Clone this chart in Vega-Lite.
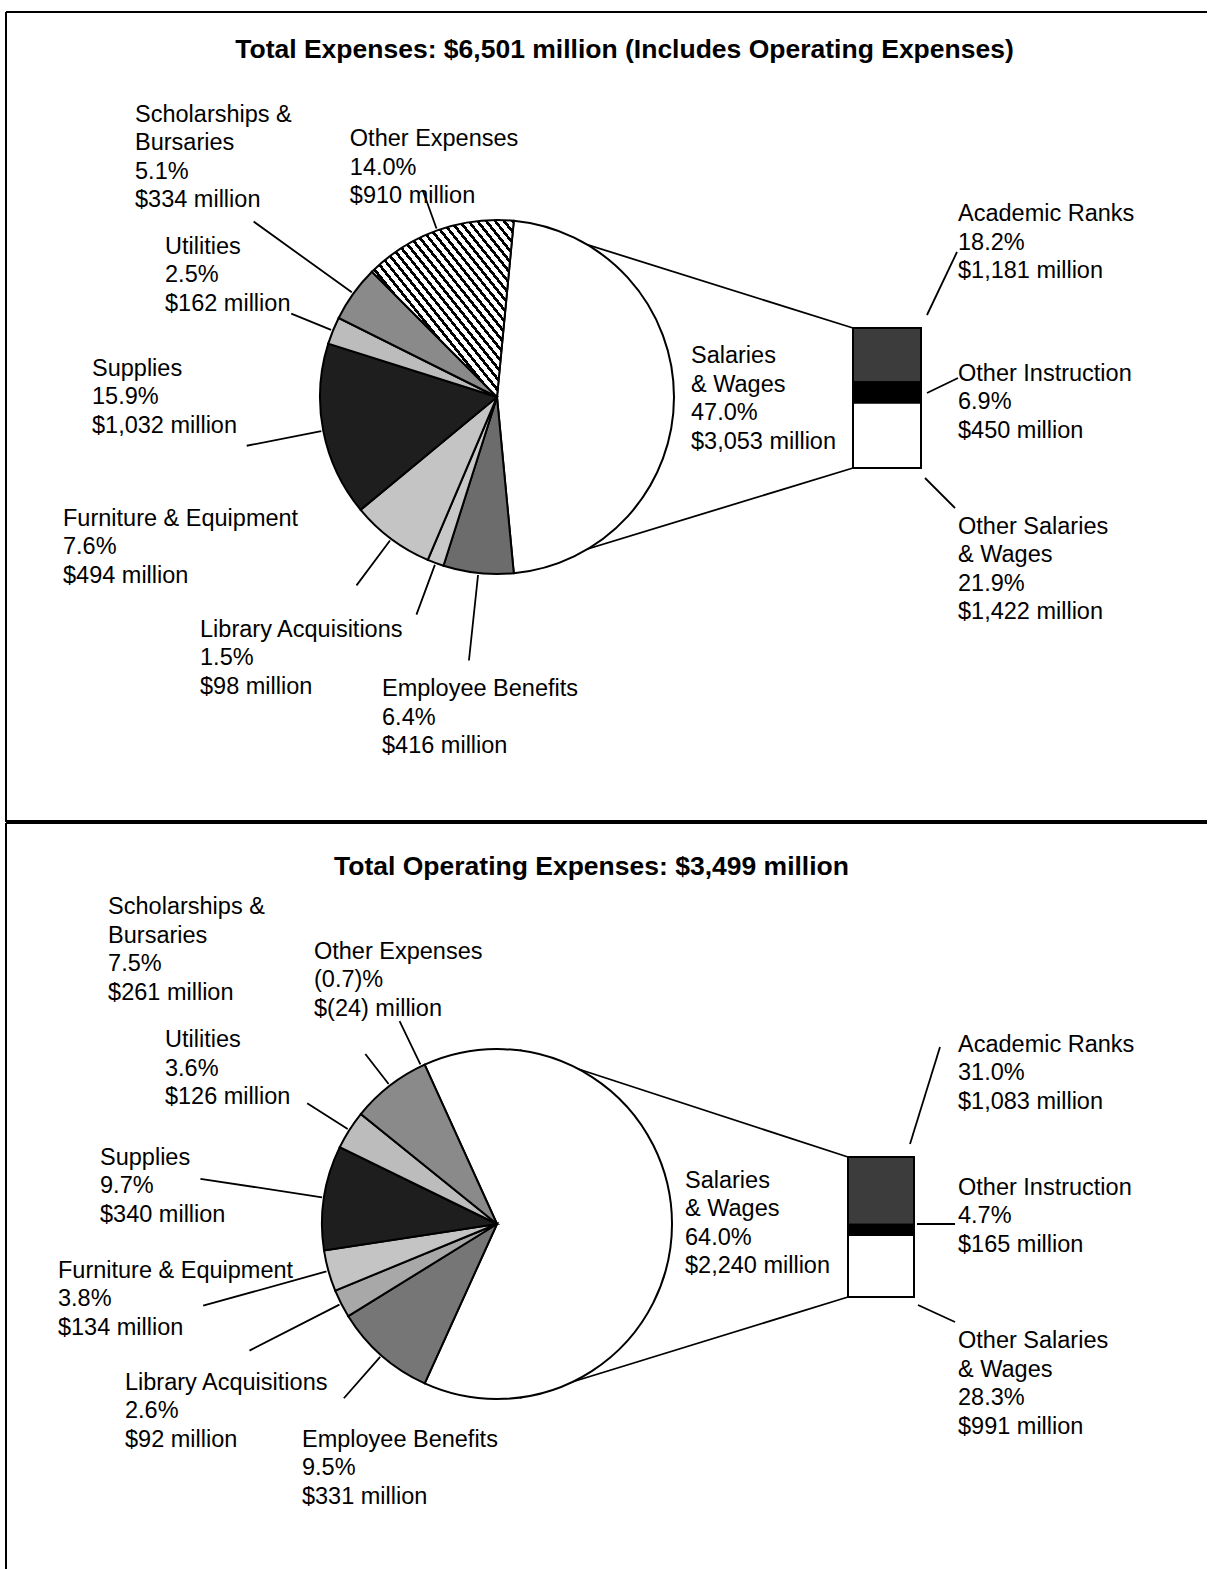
{
  "$schema": "https://vega.github.io/schema/vega-lite/v6.json",
  "background": "white",
  "padding": {"left": 5, "top": 11, "right": 0, "bottom": 0},
  "spacing": 0,
  "config": {
    "view": {"stroke": "black", "strokeWidth": 2},
    "title": {"font": "Liberation Sans", "fontSize": 26.5, "fontWeight": "bold", "color": "black", "anchor": "middle"},
    "text": {"font": "Liberation Sans", "fontSize": 23.5, "color": "black"}
  },
  "datasets": {
    "topPie": [
      {"cat": "Salaries & Wages", "amount": 3053, "ord": 1, "label": "Salaries\n& Wages\n47.0%\n$3,053 million"},
      {"cat": "Employee Benefits", "amount": 416, "ord": 2, "label": "Employee Benefits\n6.4%\n$416 million"},
      {"cat": "Library Acquisitions", "amount": 98, "ord": 3, "label": "Library Acquisitions\n1.5%\n$98 million"},
      {"cat": "Furniture & Equipment", "amount": 494, "ord": 4, "label": "Furniture & Equipment\n7.6%\n$494 million"},
      {"cat": "Supplies", "amount": 1032, "ord": 5, "label": "Supplies\n15.9%\n$1,032 million"},
      {"cat": "Utilities", "amount": 162, "ord": 6, "label": "Utilities\n2.5%\n$162 million"},
      {"cat": "Scholarships & Bursaries", "amount": 334, "ord": 7, "label": "Scholarships &\nBursaries\n5.1%\n$334 million"},
      {"cat": "Other Expenses", "amount": 910, "ord": 8, "label": "Other Expenses\n14.0%\n$910 million"}
    ],
    "topBar": [
      {"cat": "Academic Ranks", "amount": 1181, "ord": 3, "label": "Academic Ranks\n18.2%\n$1,181 million"},
      {"cat": "Other Instruction", "amount": 450, "ord": 2, "label": "Other Instruction\n6.9%\n$450 million"},
      {"cat": "Other Salaries & Wages", "amount": 1422, "ord": 1, "label": "Other Salaries\n& Wages\n21.9%\n$1,422 million"}
    ],
    "botPie": [
      {"cat": "Salaries & Wages", "amount": 2240, "ord": 1, "label": "Salaries\n& Wages\n64.0%\n$2,240 million"},
      {"cat": "Employee Benefits", "amount": 331, "ord": 2, "label": "Employee Benefits\n9.5%\n$331 million"},
      {"cat": "Library Acquisitions", "amount": 92, "ord": 3, "label": "Library Acquisitions\n2.6%\n$92 million"},
      {"cat": "Furniture & Equipment", "amount": 134, "ord": 4, "label": "Furniture & Equipment\n3.8%\n$134 million"},
      {"cat": "Supplies", "amount": 340, "ord": 5, "label": "Supplies\n9.7%\n$340 million"},
      {"cat": "Utilities", "amount": 126, "ord": 6, "label": "Utilities\n3.6%\n$126 million"},
      {"cat": "Scholarships & Bursaries", "amount": 261, "ord": 7, "label": "Scholarships &\nBursaries\n7.5%\n$261 million"},
      {"cat": "Other Expenses", "amount": -24, "ord": 8, "label": "Other Expenses\n(0.7)%\n$(24) million"}
    ],
    "botBar": [
      {"cat": "Academic Ranks", "amount": 1083, "ord": 3, "label": "Academic Ranks\n31.0%\n$1,083 million"},
      {"cat": "Other Instruction", "amount": 165, "ord": 2, "label": "Other Instruction\n4.7%\n$165 million"},
      {"cat": "Other Salaries & Wages", "amount": 991, "ord": 1, "label": "Other Salaries\n& Wages\n28.3%\n$991 million"}
    ]
  },
  "vconcat": [
    {
      "width": 1201,
      "height": 809,
      "view": {"stroke": "black", "strokeWidth": 2, "strokeDash": [1201, 809, 2010, 0]},
      "title": {"text": "Total Expenses: $6,501 million (Includes Operating Expenses)", "offset": -51, "dx": 18},
      "resolve": {"scale": {"x": "independent", "y": "independent"}},
      "layer": [
        {
          "data": {"values": [{}]},
          "layer": [
            {"mark": {"type": "rule", "strokeWidth": 1.8, "color": "black", "clip": true}, "encoding": {"x": {"datum": 515, "type": "quantitative", "scale": {"domain": [6, 1207]}, "axis": null}, "x2": {"datum": 853}, "y": {"datum": 5364.5, "type": "quantitative", "scale": {"domain": [-7698, 9944]}, "axis": null}, "y2": {"datum": 3053}}},
            {"mark": {"type": "rule", "strokeWidth": 1.8, "color": "black", "clip": true}, "encoding": {"x": {"datum": 512, "type": "quantitative", "scale": {"domain": [6, 1207]}, "axis": null}, "x2": {"datum": 853}, "y": {"datum": -2267.9, "type": "quantitative", "scale": {"domain": [-7698, 9944]}, "axis": null}, "y2": {"datum": 0}}},
            {"mark": {"type": "rule", "strokeWidth": 1.8, "color": "black", "clip": true}, "encoding": {"x": {"datum": 927, "type": "quantitative", "scale": {"domain": [6, 1207]}, "axis": null}, "x2": {"datum": 957}, "y": {"datum": 3336.5, "type": "quantitative", "scale": {"domain": [-7698, 9944]}, "axis": null}, "y2": {"datum": 4710.3}}},
            {"mark": {"type": "rule", "strokeWidth": 1.8, "color": "black", "clip": true}, "encoding": {"x": {"datum": 927, "type": "quantitative", "scale": {"domain": [6, 1207]}, "axis": null}, "x2": {"datum": 958}, "y": {"datum": 1635.5, "type": "quantitative", "scale": {"domain": [-7698, 9944]}, "axis": null}, "y2": {"datum": 1962.6}}},
            {"mark": {"type": "rule", "strokeWidth": 1.8, "color": "black", "clip": true}, "encoding": {"x": {"datum": 925, "type": "quantitative", "scale": {"domain": [6, 1207]}, "axis": null}, "x2": {"datum": 955}, "y": {"datum": -218.1, "type": "quantitative", "scale": {"domain": [-7698, 9944]}, "axis": null}, "y2": {"datum": -872.3}}}
          ]
        },
        {
          "data": {"name": "topPie"},
          "encoding": {
            "x": {"datum": "pie", "type": "nominal", "scale": {"type": "point", "align": 0.40883}, "axis": null},
            "y": {"datum": "pie", "type": "nominal", "scale": {"type": "point", "align": 0.4759}, "axis": null},
            "theta": {"field": "amount", "type": "quantitative", "stack": true, "scale": {"range": [0.095, 6.3782]}},
            "order": {"field": "ord", "type": "quantitative"}
          },
          "layer": [
            {
              "mark": {"type": "arc", "outerRadius": 177, "stroke": "black", "strokeWidth": 2, "clip": true},
              "encoding": {
                "fill": {
                  "condition": [
                    {"test": "datum.cat === 'Other Expenses'", "value": {"gradient": "linear", "x1": 0, "y1": 1, "x2": 1, "y2": 0, "stops": [
                      {"offset": 0, "color": "#fff"}, {"offset": 0.01875, "color": "#fff"}, {"offset": 0.01875, "color": "#000"}, {"offset": 0.03125, "color": "#000"},
                      {"offset": 0.03125, "color": "#fff"}, {"offset": 0.05, "color": "#fff"}, {"offset": 0.05, "color": "#000"}, {"offset": 0.0625, "color": "#000"},
                      {"offset": 0.0625, "color": "#fff"}, {"offset": 0.08125, "color": "#fff"}, {"offset": 0.08125, "color": "#000"}, {"offset": 0.09375, "color": "#000"},
                      {"offset": 0.09375, "color": "#fff"}, {"offset": 0.1125, "color": "#fff"}, {"offset": 0.1125, "color": "#000"}, {"offset": 0.125, "color": "#000"},
                      {"offset": 0.125, "color": "#fff"}, {"offset": 0.14375, "color": "#fff"}, {"offset": 0.14375, "color": "#000"}, {"offset": 0.15625, "color": "#000"},
                      {"offset": 0.15625, "color": "#fff"}, {"offset": 0.175, "color": "#fff"}, {"offset": 0.175, "color": "#000"}, {"offset": 0.1875, "color": "#000"},
                      {"offset": 0.1875, "color": "#fff"}, {"offset": 0.20625, "color": "#fff"}, {"offset": 0.20625, "color": "#000"}, {"offset": 0.21875, "color": "#000"},
                      {"offset": 0.21875, "color": "#fff"}, {"offset": 0.2375, "color": "#fff"}, {"offset": 0.2375, "color": "#000"}, {"offset": 0.25, "color": "#000"},
                      {"offset": 0.25, "color": "#fff"}, {"offset": 0.26875, "color": "#fff"}, {"offset": 0.26875, "color": "#000"}, {"offset": 0.28125, "color": "#000"},
                      {"offset": 0.28125, "color": "#fff"}, {"offset": 0.3, "color": "#fff"}, {"offset": 0.3, "color": "#000"}, {"offset": 0.3125, "color": "#000"},
                      {"offset": 0.3125, "color": "#fff"}, {"offset": 0.33125, "color": "#fff"}, {"offset": 0.33125, "color": "#000"}, {"offset": 0.34375, "color": "#000"},
                      {"offset": 0.34375, "color": "#fff"}, {"offset": 0.3625, "color": "#fff"}, {"offset": 0.3625, "color": "#000"}, {"offset": 0.375, "color": "#000"},
                      {"offset": 0.375, "color": "#fff"}, {"offset": 0.39375, "color": "#fff"}, {"offset": 0.39375, "color": "#000"}, {"offset": 0.40625, "color": "#000"},
                      {"offset": 0.40625, "color": "#fff"}, {"offset": 0.425, "color": "#fff"}, {"offset": 0.425, "color": "#000"}, {"offset": 0.4375, "color": "#000"},
                      {"offset": 0.4375, "color": "#fff"}, {"offset": 0.45625, "color": "#fff"}, {"offset": 0.45625, "color": "#000"}, {"offset": 0.46875, "color": "#000"},
                      {"offset": 0.46875, "color": "#fff"}, {"offset": 0.4875, "color": "#fff"}, {"offset": 0.4875, "color": "#000"}, {"offset": 0.5, "color": "#000"},
                      {"offset": 0.5, "color": "#fff"}, {"offset": 0.51875, "color": "#fff"}, {"offset": 0.51875, "color": "#000"}, {"offset": 0.53125, "color": "#000"},
                      {"offset": 0.53125, "color": "#fff"}, {"offset": 0.55, "color": "#fff"}, {"offset": 0.55, "color": "#000"}, {"offset": 0.5625, "color": "#000"},
                      {"offset": 0.5625, "color": "#fff"}, {"offset": 0.58125, "color": "#fff"}, {"offset": 0.58125, "color": "#000"}, {"offset": 0.59375, "color": "#000"},
                      {"offset": 0.59375, "color": "#fff"}, {"offset": 0.6125, "color": "#fff"}, {"offset": 0.6125, "color": "#000"}, {"offset": 0.625, "color": "#000"},
                      {"offset": 0.625, "color": "#fff"}, {"offset": 0.64375, "color": "#fff"}, {"offset": 0.64375, "color": "#000"}, {"offset": 0.65625, "color": "#000"},
                      {"offset": 0.65625, "color": "#fff"}, {"offset": 0.675, "color": "#fff"}, {"offset": 0.675, "color": "#000"}, {"offset": 0.6875, "color": "#000"},
                      {"offset": 0.6875, "color": "#fff"}, {"offset": 0.70625, "color": "#fff"}, {"offset": 0.70625, "color": "#000"}, {"offset": 0.71875, "color": "#000"},
                      {"offset": 0.71875, "color": "#fff"}, {"offset": 0.7375, "color": "#fff"}, {"offset": 0.7375, "color": "#000"}, {"offset": 0.75, "color": "#000"},
                      {"offset": 0.75, "color": "#fff"}, {"offset": 0.76875, "color": "#fff"}, {"offset": 0.76875, "color": "#000"}, {"offset": 0.78125, "color": "#000"},
                      {"offset": 0.78125, "color": "#fff"}, {"offset": 0.8, "color": "#fff"}, {"offset": 0.8, "color": "#000"}, {"offset": 0.8125, "color": "#000"},
                      {"offset": 0.8125, "color": "#fff"}, {"offset": 0.83125, "color": "#fff"}, {"offset": 0.83125, "color": "#000"}, {"offset": 0.84375, "color": "#000"},
                      {"offset": 0.84375, "color": "#fff"}, {"offset": 0.8625, "color": "#fff"}, {"offset": 0.8625, "color": "#000"}, {"offset": 0.875, "color": "#000"},
                      {"offset": 0.875, "color": "#fff"}, {"offset": 0.89375, "color": "#fff"}, {"offset": 0.89375, "color": "#000"}, {"offset": 0.90625, "color": "#000"},
                      {"offset": 0.90625, "color": "#fff"}, {"offset": 0.925, "color": "#fff"}, {"offset": 0.925, "color": "#000"}, {"offset": 0.9375, "color": "#000"},
                      {"offset": 0.9375, "color": "#fff"}, {"offset": 0.95625, "color": "#fff"}, {"offset": 0.95625, "color": "#000"}, {"offset": 0.96875, "color": "#000"},
                      {"offset": 0.96875, "color": "#fff"}, {"offset": 0.9875, "color": "#fff"}, {"offset": 0.9875, "color": "#000"}, {"offset": 1, "color": "#000"}
                    ]}},
                    {"test": "datum.cat === 'Employee Benefits'", "value": "#6c6c6c"},
                    {"test": "datum.cat === 'Library Acquisitions'", "value": "#c8c8c8"},
                    {"test": "datum.cat === 'Furniture & Equipment'", "value": "#c4c4c4"},
                    {"test": "datum.cat === 'Supplies'", "value": "#1e1e1e"},
                    {"test": "datum.cat === 'Utilities'", "value": "#bcbcbc"},
                    {"test": "datum.cat === 'Scholarships & Bursaries'", "value": "#8a8a8a"}
                  ],
                  "value": "white"
                }
              }
            },
            {"mark": {"type": "arc", "innerRadius": 179, "outerRadius": 220, "padAngle": 3.14, "filled": false, "stroke": "black", "strokeWidth": 1.8, "clip": true}, "encoding": {"strokeOpacity": {"condition": {"test": "datum.cat === 'Other Expenses'", "value": 1}, "value": 0}}},
            {"mark": {"type": "arc", "innerRadius": 179, "outerRadius": 300, "padAngle": 3.14, "filled": false, "stroke": "black", "strokeWidth": 1.8, "clip": true}, "encoding": {"strokeOpacity": {"condition": {"test": "datum.cat === 'Scholarships & Bursaries'", "value": 1}, "value": 0}}},
            {"mark": {"type": "arc", "innerRadius": 179, "outerRadius": 222, "padAngle": 3.14, "filled": false, "stroke": "black", "strokeWidth": 1.8, "clip": true}, "encoding": {"strokeOpacity": {"condition": {"test": "datum.cat === 'Utilities'", "value": 1}, "value": 0}}},
            {"mark": {"type": "arc", "innerRadius": 179, "outerRadius": 255, "padAngle": 3.14, "filled": false, "stroke": "black", "strokeWidth": 1.8, "clip": true}, "encoding": {"strokeOpacity": {"condition": {"test": "datum.cat === 'Supplies'", "value": 1}, "value": 0}}},
            {"mark": {"type": "arc", "innerRadius": 179, "outerRadius": 235, "padAngle": 3.14, "filled": false, "stroke": "black", "strokeWidth": 1.8, "clip": true}, "encoding": {"strokeOpacity": {"condition": {"test": "datum.cat === 'Furniture & Equipment'", "value": 1}, "value": 0}}},
            {"mark": {"type": "arc", "innerRadius": 179, "outerRadius": 232, "padAngle": 3.14, "filled": false, "stroke": "black", "strokeWidth": 1.8, "clip": true}, "encoding": {"strokeOpacity": {"condition": {"test": "datum.cat === 'Library Acquisitions'", "value": 1}, "value": 0}}},
            {"mark": {"type": "arc", "innerRadius": 179, "outerRadius": 265, "padAngle": 3.14, "filled": false, "stroke": "black", "strokeWidth": 1.8, "clip": true}, "encoding": {"strokeOpacity": {"condition": {"test": "datum.cat === 'Employee Benefits'", "value": 1}, "value": 0}}},
            {"mark": {"type": "text", "radius": 220, "dx": -72.8, "dy": -62.9, "align": "left", "baseline": "top", "lineBreak": "\n", "lineHeight": 28.5, "clip": true}, "encoding": {"text": {"condition": {"test": "datum.cat === 'Other Expenses'", "field": "label", "type": "nominal"}, "value": ""}}},
            {"mark": {"type": "text", "radius": 300, "dx": -118.6, "dy": -118.6, "align": "left", "baseline": "top", "lineBreak": "\n", "lineHeight": 28.5, "clip": true}, "encoding": {"text": {"condition": {"test": "datum.cat === 'Scholarships & Bursaries'", "field": "label", "type": "nominal"}, "value": ""}}},
            {"mark": {"type": "text", "radius": 222, "dx": -126.2, "dy": -78.7, "align": "left", "baseline": "top", "lineBreak": "\n", "lineHeight": 28.5, "clip": true}, "encoding": {"text": {"condition": {"test": "datum.cat === 'Utilities'", "field": "label", "type": "nominal"}, "value": ""}}},
            {"mark": {"type": "text", "radius": 255, "dx": -154.7, "dy": -88.8, "align": "left", "baseline": "top", "lineBreak": "\n", "lineHeight": 28.5, "clip": true}, "encoding": {"text": {"condition": {"test": "datum.cat === 'Supplies'", "field": "label", "type": "nominal"}, "value": ""}}},
            {"mark": {"type": "text", "radius": 235, "dx": -293.5, "dy": -78.4, "align": "left", "baseline": "top", "lineBreak": "\n", "lineHeight": 28.5, "clip": true}, "encoding": {"text": {"condition": {"test": "datum.cat === 'Furniture & Equipment'", "field": "label", "type": "nominal"}, "value": ""}}},
            {"mark": {"type": "text", "radius": 232, "dx": -216.4, "dy": 3.4, "align": "left", "baseline": "top", "lineBreak": "\n", "lineHeight": 28.5, "clip": true}, "encoding": {"text": {"condition": {"test": "datum.cat === 'Library Acquisitions'", "field": "label", "type": "nominal"}, "value": ""}}},
            {"mark": {"type": "text", "radius": 265, "dx": -86.9, "dy": 16.5, "align": "left", "baseline": "top", "lineBreak": "\n", "lineHeight": 28.5, "clip": true}, "encoding": {"text": {"condition": {"test": "datum.cat === 'Employee Benefits'", "field": "label", "type": "nominal"}, "value": ""}}},
            {"mark": {"type": "text", "radius": 194, "dx": 0, "dy": -53, "align": "left", "baseline": "top", "lineBreak": "\n", "lineHeight": 28.5, "clip": true}, "encoding": {"text": {"condition": {"test": "datum.cat === 'Salaries & Wages'", "field": "label", "type": "nominal"}, "value": ""}}}
          ]
        },
        {
          "data": {"name": "topBar"},
          "encoding": {
            "x": {"datum": "bar", "type": "nominal", "scale": {"type": "point", "align": 0.73356}, "axis": null},
            "y": {"field": "amount", "type": "quantitative", "stack": true, "scale": {"domain": [-7698, 9944]}, "axis": null},
            "order": {"field": "ord", "type": "quantitative"}
          },
          "layer": [
            {
              "mark": {"type": "bar", "width": 68, "stroke": "black", "strokeWidth": 2, "clip": true},
              "encoding": {
                "fill": {
                  "condition": [
                    {"test": "datum.cat === 'Academic Ranks'", "value": "#3c3c3c"},
                    {"test": "datum.cat === 'Other Instruction'", "value": "#000000"}
                  ],
                  "value": "white"
                }
              }
            },
            {"mark": {"type": "text", "dx": 71, "dy": -153, "align": "left", "baseline": "top", "lineBreak": "\n", "lineHeight": 28.5, "clip": true}, "encoding": {"y": {"field": "amount", "type": "quantitative", "stack": true, "bandPosition": 0.5, "scale": {"domain": [-7698, 9944]}, "axis": null}, "text": {"condition": {"test": "datum.cat === 'Academic Ranks'", "field": "label", "type": "nominal"}, "value": ""}}},
            {"mark": {"type": "text", "dx": 71, "dy": -30.5, "align": "left", "baseline": "top", "lineBreak": "\n", "lineHeight": 28.5, "clip": true}, "encoding": {"y": {"field": "amount", "type": "quantitative", "stack": true, "bandPosition": 0.5, "scale": {"domain": [-7698, 9944]}, "axis": null}, "text": {"condition": {"test": "datum.cat === 'Other Instruction'", "field": "label", "type": "nominal"}, "value": ""}}},
            {"mark": {"type": "text", "dx": 71, "dy": 79.6, "align": "left", "baseline": "top", "lineBreak": "\n", "lineHeight": 28.5, "clip": true}, "encoding": {"y": {"field": "amount", "type": "quantitative", "stack": true, "bandPosition": 0.5, "scale": {"domain": [-7698, 9944]}, "axis": null}, "text": {"condition": {"test": "datum.cat === 'Other Salaries & Wages'", "field": "label", "type": "nominal"}, "value": ""}}}
          ]
        }
      ]
    },
    {
      "width": 1201,
      "height": 747,
      "view": {"stroke": "black", "strokeWidth": 2, "strokeDash": [1201, 1836, 859, 0]},
      "title": {"text": "Total Operating Expenses: $3,499 million", "offset": -57, "dx": -15},
      "resolve": {"scale": {"x": "independent", "y": "independent"}},
      "layer": [
        {
          "data": {"values": [{}]},
          "layer": [
            {"mark": {"type": "rule", "strokeWidth": 1.8, "color": "black", "clip": true}, "encoding": {"x": {"datum": 520, "type": "quantitative", "scale": {"domain": [6, 1207]}, "axis": null}, "x2": {"datum": 848}, "y": {"datum": 3950.3, "type": "quantitative", "scale": {"domain": [-4366, 7581]}, "axis": null}, "y2": {"datum": 2239}}},
            {"mark": {"type": "rule", "strokeWidth": 1.8, "color": "black", "clip": true}, "encoding": {"x": {"datum": 520, "type": "quantitative", "scale": {"domain": [6, 1207]}, "axis": null}, "x2": {"datum": 848}, "y": {"datum": -1615.3, "type": "quantitative", "scale": {"domain": [-4366, 7581]}, "axis": null}, "y2": {"datum": 0}}},
            {"mark": {"type": "rule", "strokeWidth": 1.8, "color": "black", "clip": true}, "encoding": {"x": {"datum": 940, "type": "quantitative", "scale": {"domain": [6, 1207]}, "axis": null}, "x2": {"datum": 910}, "y": {"datum": 3998.3, "type": "quantitative", "scale": {"domain": [-4366, 7581]}, "axis": null}, "y2": {"datum": 2446.9}}},
            {"mark": {"type": "rule", "strokeWidth": 1.8, "color": "black", "clip": true}, "encoding": {"x": {"datum": 917, "type": "quantitative", "scale": {"domain": [6, 1207]}, "axis": null}, "x2": {"datum": 955}, "y": {"datum": 1167.5, "type": "quantitative", "scale": {"domain": [-4366, 7581]}, "axis": null}, "y2": {"datum": 1167.5}}},
            {"mark": {"type": "rule", "strokeWidth": 1.8, "color": "black", "clip": true}, "encoding": {"x": {"datum": 918, "type": "quantitative", "scale": {"domain": [6, 1207]}, "axis": null}, "x2": {"datum": 955}, "y": {"datum": -127.9, "type": "quantitative", "scale": {"domain": [-4366, 7581]}, "axis": null}, "y2": {"datum": -399.8}}}
          ]
        },
        {
          "data": {"name": "botPie"},
          "encoding": {
            "x": {"datum": "pie", "type": "nominal", "scale": {"type": "point", "align": 0.40883}, "axis": null},
            "y": {"datum": "pie", "type": "nominal", "scale": {"type": "point", "align": 0.53681}, "axis": null},
            "theta": {"field": "amount", "type": "quantitative", "stack": true, "scale": {"domain": [0, 3524], "range": [-0.4264, 5.8568]}},
            "order": {"field": "ord", "type": "quantitative"}
          },
          "layer": [
            {
              "mark": {"type": "arc", "outerRadius": 175, "stroke": "black", "strokeWidth": 2, "clip": true},
              "encoding": {
                "fill": {
                  "condition": [
                    {"test": "datum.cat === 'Employee Benefits'", "value": "#767676"},
                    {"test": "datum.cat === 'Library Acquisitions'", "value": "#a8a8a8"},
                    {"test": "datum.cat === 'Furniture & Equipment'", "value": "#c4c4c4"},
                    {"test": "datum.cat === 'Supplies'", "value": "#1e1e1e"},
                    {"test": "datum.cat === 'Utilities'", "value": "#bcbcbc"},
                    {"test": "datum.cat === 'Scholarships & Bursaries'", "value": "#8a8a8a"}
                  ],
                  "value": "white"
                },
                "fillOpacity": {"condition": {"test": "datum.amount < 0", "value": 0}, "value": 1},
                "strokeOpacity": {"condition": {"test": "datum.amount < 0", "value": 0}, "value": 1}
              }
            },
            {"mark": {"type": "arc", "innerRadius": 177, "outerRadius": 215, "padAngle": 3.14, "filled": false, "stroke": "black", "strokeWidth": 1.8, "clip": true}, "encoding": {"strokeOpacity": {"condition": {"test": "datum.cat === 'Scholarships & Bursaries'", "value": 1}, "value": 0}}},
            {"mark": {"type": "arc", "innerRadius": 177, "outerRadius": 225, "padAngle": 3.14, "filled": false, "stroke": "black", "strokeWidth": 1.8, "clip": true}, "encoding": {"strokeOpacity": {"condition": {"test": "datum.cat === 'Other Expenses'", "value": 1}, "value": 0}}},
            {"mark": {"type": "arc", "innerRadius": 177, "outerRadius": 225, "padAngle": 3.14, "filled": false, "stroke": "black", "strokeWidth": 1.8, "clip": true}, "encoding": {"strokeOpacity": {"condition": {"test": "datum.cat === 'Utilities'", "value": 1}, "value": 0}}},
            {"mark": {"type": "arc", "innerRadius": 177, "outerRadius": 300, "padAngle": 3.14, "filled": false, "stroke": "black", "strokeWidth": 1.8, "clip": true}, "encoding": {"strokeOpacity": {"condition": {"test": "datum.cat === 'Supplies'", "value": 1}, "value": 0}}},
            {"mark": {"type": "arc", "innerRadius": 177, "outerRadius": 305, "padAngle": 3.14, "filled": false, "stroke": "black", "strokeWidth": 1.8, "clip": true}, "encoding": {"strokeOpacity": {"condition": {"test": "datum.cat === 'Furniture & Equipment'", "value": 1}, "value": 0}}},
            {"mark": {"type": "arc", "innerRadius": 177, "outerRadius": 278, "padAngle": 3.14, "filled": false, "stroke": "black", "strokeWidth": 1.8, "clip": true}, "encoding": {"strokeOpacity": {"condition": {"test": "datum.cat === 'Library Acquisitions'", "value": 1}, "value": 0}}},
            {"mark": {"type": "arc", "innerRadius": 177, "outerRadius": 232, "padAngle": 3.14, "filled": false, "stroke": "black", "strokeWidth": 1.8, "clip": true}, "encoding": {"strokeOpacity": {"condition": {"test": "datum.cat === 'Employee Benefits'", "value": 1}, "value": 0}}},
            {"mark": {"type": "text", "radius": 300, "dx": -205.2, "dy": -91.8, "align": "left", "baseline": "top", "lineBreak": "\n", "lineHeight": 28.5, "clip": true}, "encoding": {"text": {"condition": {"test": "datum.cat === 'Scholarships & Bursaries'", "field": "label", "type": "nominal"}, "value": ""}}},
            {"mark": {"type": "text", "radius": 225, "dx": -85.6, "dy": -81.2, "align": "left", "baseline": "top", "lineBreak": "\n", "lineHeight": 28.5, "clip": true}, "encoding": {"text": {"condition": {"test": "datum.cat === 'Other Expenses'", "field": "label", "type": "nominal"}, "value": ""}}},
            {"mark": {"type": "text", "radius": 225, "dx": -142.2, "dy": -75.2, "align": "left", "baseline": "top", "lineBreak": "\n", "lineHeight": 28.5, "clip": true}, "encoding": {"text": {"condition": {"test": "datum.cat === 'Utilities'", "field": "label", "type": "nominal"}, "value": ""}}},
            {"mark": {"type": "text", "radius": 300, "dx": -100.4, "dy": -32.8, "align": "left", "baseline": "top", "lineBreak": "\n", "lineHeight": 28.5, "clip": true}, "encoding": {"text": {"condition": {"test": "datum.cat === 'Supplies'", "field": "label", "type": "nominal"}, "value": ""}}},
            {"mark": {"type": "text", "radius": 305, "dx": -145.2, "dy": -46.8, "align": "left", "baseline": "top", "lineBreak": "\n", "lineHeight": 28.5, "clip": true}, "encoding": {"text": {"condition": {"test": "datum.cat === 'Furniture & Equipment'", "field": "label", "type": "nominal"}, "value": ""}}},
            {"mark": {"type": "text", "radius": 278, "dx": -124.5, "dy": 20.4, "align": "left", "baseline": "top", "lineBreak": "\n", "lineHeight": 28.5, "clip": true}, "encoding": {"text": {"condition": {"test": "datum.cat === 'Library Acquisitions'", "field": "label", "type": "nominal"}, "value": ""}}},
            {"mark": {"type": "text", "radius": 232, "dx": -41.9, "dy": 29.7, "align": "left", "baseline": "top", "lineBreak": "\n", "lineHeight": 28.5, "clip": true}, "encoding": {"text": {"condition": {"test": "datum.cat === 'Employee Benefits'", "field": "label", "type": "nominal"}, "value": ""}}},
            {"mark": {"type": "text", "radius": 188, "dx": 0, "dy": -55, "align": "left", "baseline": "top", "lineBreak": "\n", "lineHeight": 28.5, "clip": true}, "encoding": {"text": {"condition": {"test": "datum.cat === 'Salaries & Wages'", "field": "label", "type": "nominal"}, "value": ""}}}
          ]
        },
        {
          "data": {"name": "botBar"},
          "encoding": {
            "x": {"datum": "bar", "type": "nominal", "scale": {"type": "point", "align": 0.72856}, "axis": null},
            "y": {"field": "amount", "type": "quantitative", "stack": true, "scale": {"domain": [-4366, 7581]}, "axis": null},
            "order": {"field": "ord", "type": "quantitative"}
          },
          "layer": [
            {
              "mark": {"type": "bar", "width": 66, "stroke": "black", "strokeWidth": 2, "clip": true},
              "encoding": {
                "fill": {
                  "condition": [
                    {"test": "datum.cat === 'Academic Ranks'", "value": "#3c3c3c"},
                    {"test": "datum.cat === 'Other Instruction'", "value": "#000000"}
                  ],
                  "value": "white"
                }
              }
            },
            {"mark": {"type": "text", "dx": 77, "dy": -157.9, "align": "left", "baseline": "top", "lineBreak": "\n", "lineHeight": 28.5, "clip": true}, "encoding": {"y": {"field": "amount", "type": "quantitative", "stack": true, "bandPosition": 0.5, "scale": {"domain": [-4366, 7581]}, "axis": null}, "text": {"condition": {"test": "datum.cat === 'Academic Ranks'", "field": "label", "type": "nominal"}, "value": ""}}},
            {"mark": {"type": "text", "dx": 77, "dy": -53.9, "align": "left", "baseline": "top", "lineBreak": "\n", "lineHeight": 28.5, "clip": true}, "encoding": {"y": {"field": "amount", "type": "quantitative", "stack": true, "bandPosition": 0.5, "scale": {"domain": [-4366, 7581]}, "axis": null}, "text": {"condition": {"test": "datum.cat === 'Other Instruction'", "field": "label", "type": "nominal"}, "value": ""}}},
            {"mark": {"type": "text", "dx": 77, "dy": 63, "align": "left", "baseline": "top", "lineBreak": "\n", "lineHeight": 28.5, "clip": true}, "encoding": {"y": {"field": "amount", "type": "quantitative", "stack": true, "bandPosition": 0.5, "scale": {"domain": [-4366, 7581]}, "axis": null}, "text": {"condition": {"test": "datum.cat === 'Other Salaries & Wages'", "field": "label", "type": "nominal"}, "value": ""}}}
          ]
        }
      ]
    }
  ]
}
